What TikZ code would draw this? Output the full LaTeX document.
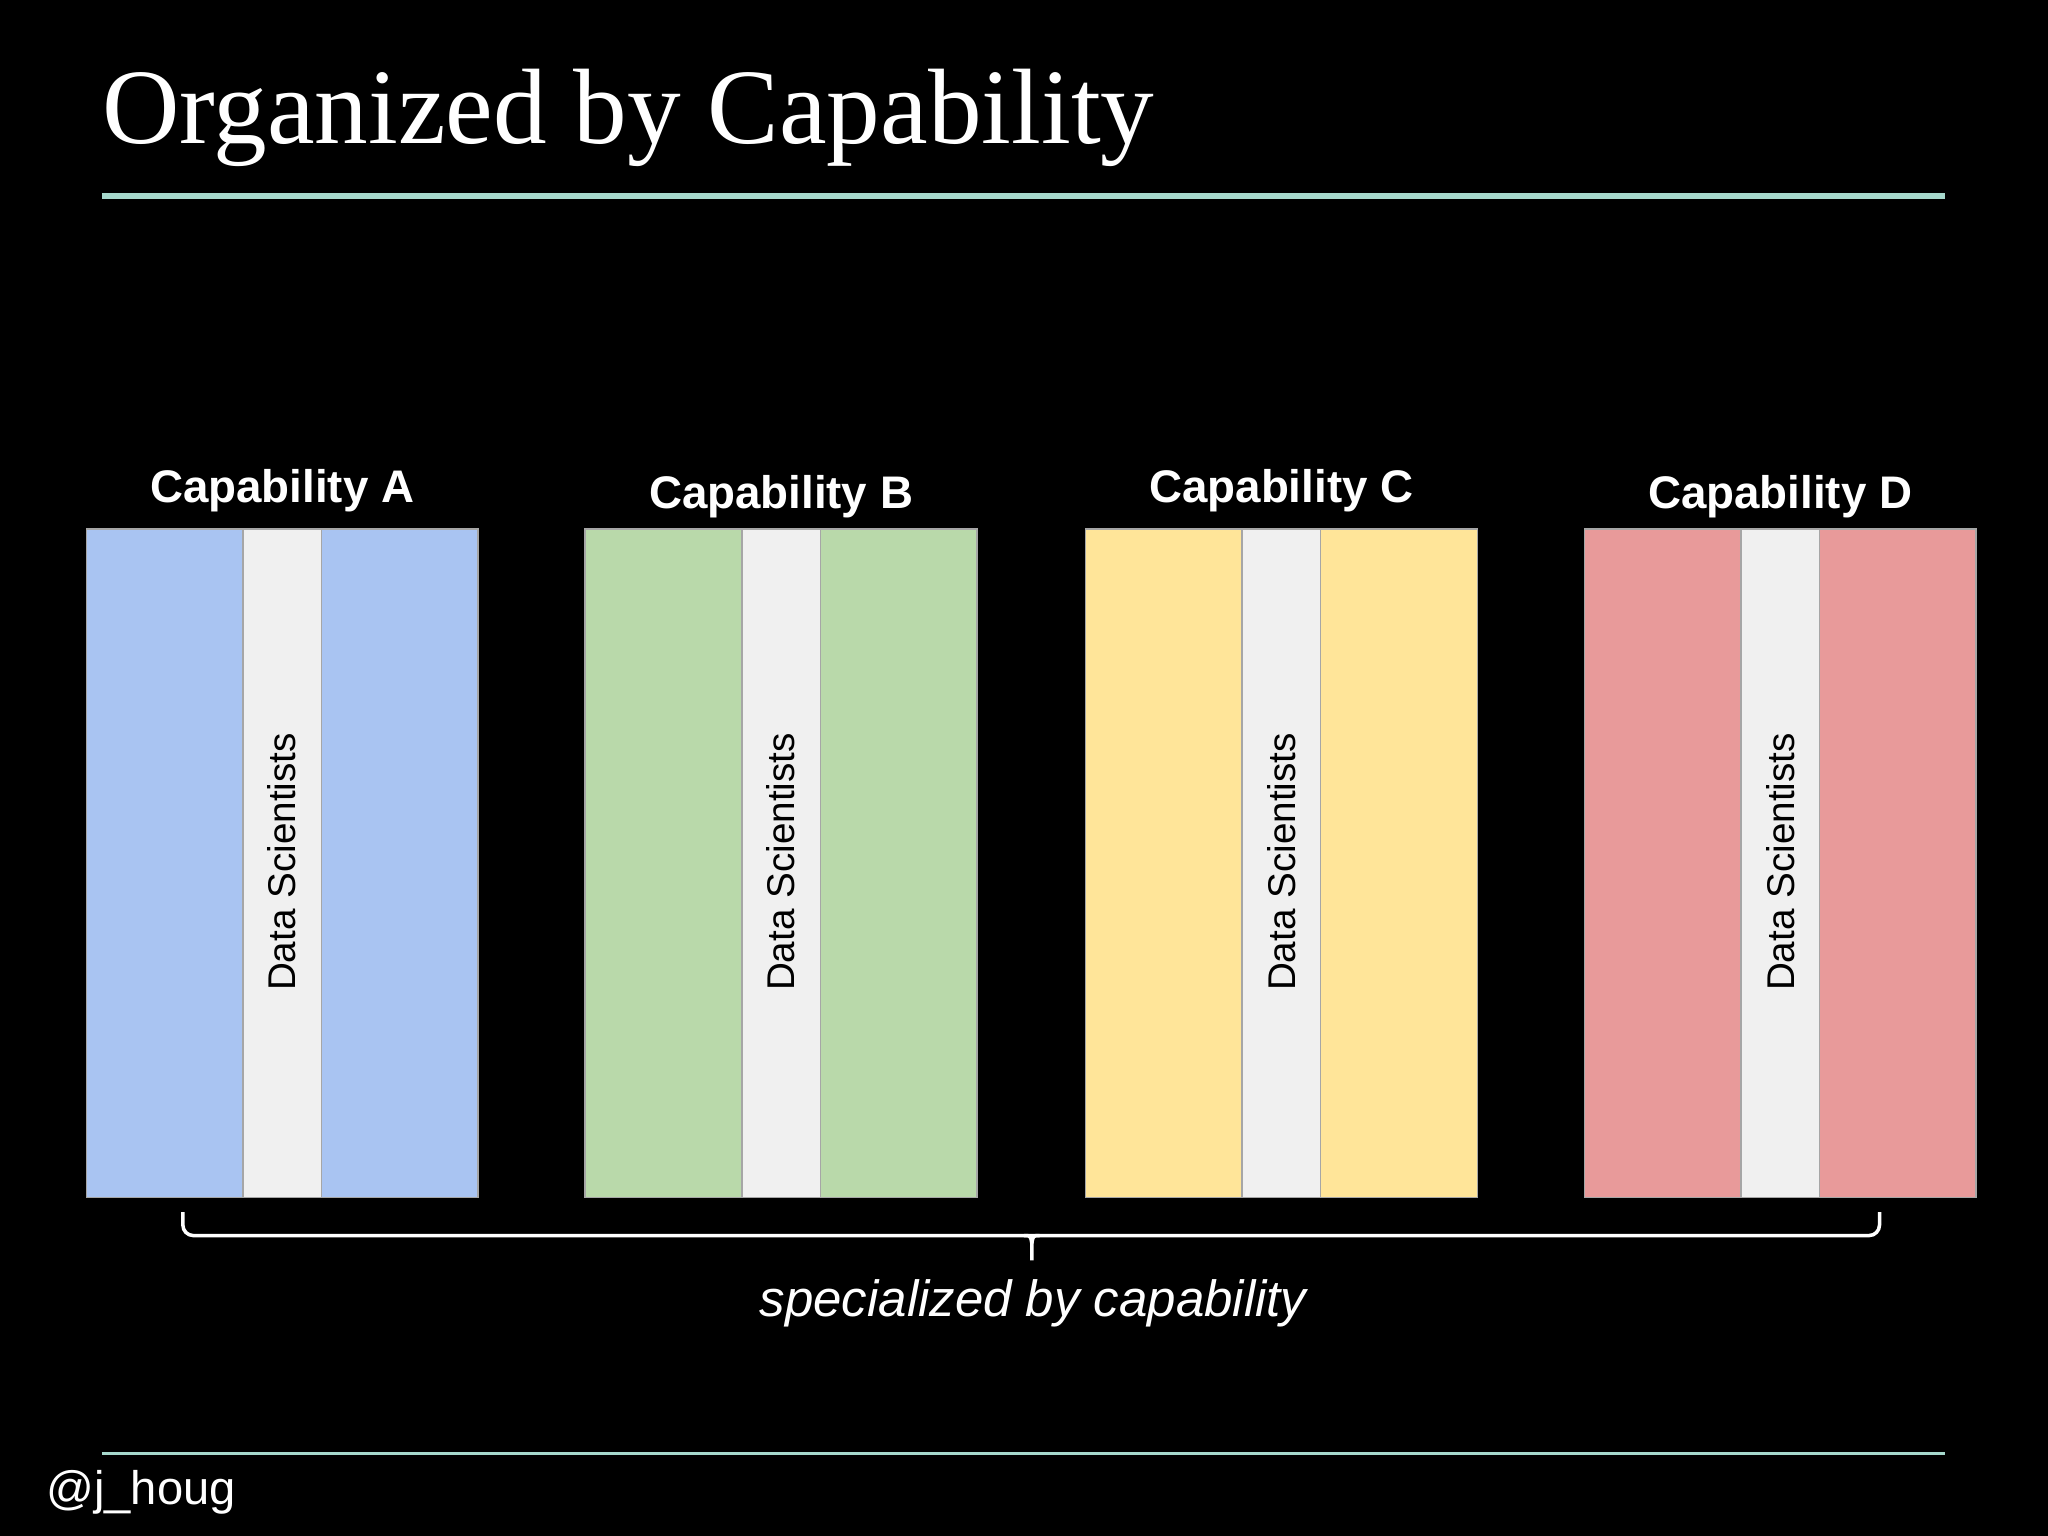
\documentclass[tikz,border=0pt]{standalone}
\usepackage{fontspec}
\setmainfont{Liberation Serif}
\setsansfont{Liberation Sans}
\definecolor{capA}{HTML}{A9C4F2}
\definecolor{capB}{HTML}{B9D9AA}
\definecolor{capC}{HTML}{FFE599}
\definecolor{capD}{HTML}{E89A9A}
\definecolor{strip}{HTML}{F0F0F0}
\definecolor{rule}{HTML}{A6D8CC}
\tikzset{
  side/.style={draw=gray!70,line width=0.4pt},
  capl/.style={text=white,font=\sffamily\bfseries\fontsize{13}{15}\selectfont},
  ds/.style={rotate=90,font=\sffamily\fontsize{11}{13}\selectfont,text=black},
  bracel/.style={white,line width=1pt,rounded corners=3pt}
}
\begin{document}
\begin{tikzpicture}[x=0.013061cm,y=-0.013061cm]
\fill[black] (0,0) rectangle (1568,1176);
\useasboundingbox (0,0) rectangle (1568,1176);
\node[anchor=base west,text=white,inner sep=0,font=\fontsize{30.5}{36}\selectfont] (title) at (78,110) {Organized by Capability};
\coordinate (r1a) at (78,150); \coordinate (r1b) at (1489,150);
\draw[rule,line width=1.5pt] (r1a) -- (r1b);
\coordinate (r2a) at (78,1113); \coordinate (r2b) at (1489,1113);
\draw[rule,line width=0.8pt] (r2a) -- (r2b);
\foreach \n/\x/\c/\l/\ly in {a/66/capA/A/376, b/448/capB/B/380, c/831/capC/C/376, d/1213/capD/D/380}{
  \fill[\c] (\x,405) rectangle ++(300,512);
  \fill[strip] (\x+120,405) rectangle ++(60,512);
  \draw[side] (\x,405) rectangle ++(300,512);
  \draw[side] (\x+120,405) -- ++(0,512);
  \draw[side] (\x+180,405) -- ++(0,512);
  \node[capl] (cap\n) at (\x+150,\ly) {Capability \l};
  \node[ds] (ds\n) at (\x+150,660) {Data Scientists};
}
\coordinate (bl) at (140,928); \coordinate (br) at (1439,928);
\coordinate (bm) at (790,946); \coordinate (btip) at (790,965);
\coordinate (bml) at (784,946); \coordinate (bmr) at (796,946);
\coordinate (bmd) at (790,952);
\draw[bracel] (bl) -- (bl |- bm) -- (br |- bm) -- (br);
\draw[white,line width=1pt] (bml) .. controls (789,946) .. (bmd) -- (btip);
\draw[white,line width=1pt] (bmr) .. controls (791,946) .. (bmd);
\node[text=white,font=\sffamily\itshape\fontsize{14.5}{17}\selectfont] (spec) at (791,998) {specialized by capability};
\node[anchor=base west,inner sep=0,text=white,font=\sffamily\fontsize{13.4}{16}\selectfont] (handle) at (35,1152) {@j\_houg};
\end{tikzpicture}
\end{document}
